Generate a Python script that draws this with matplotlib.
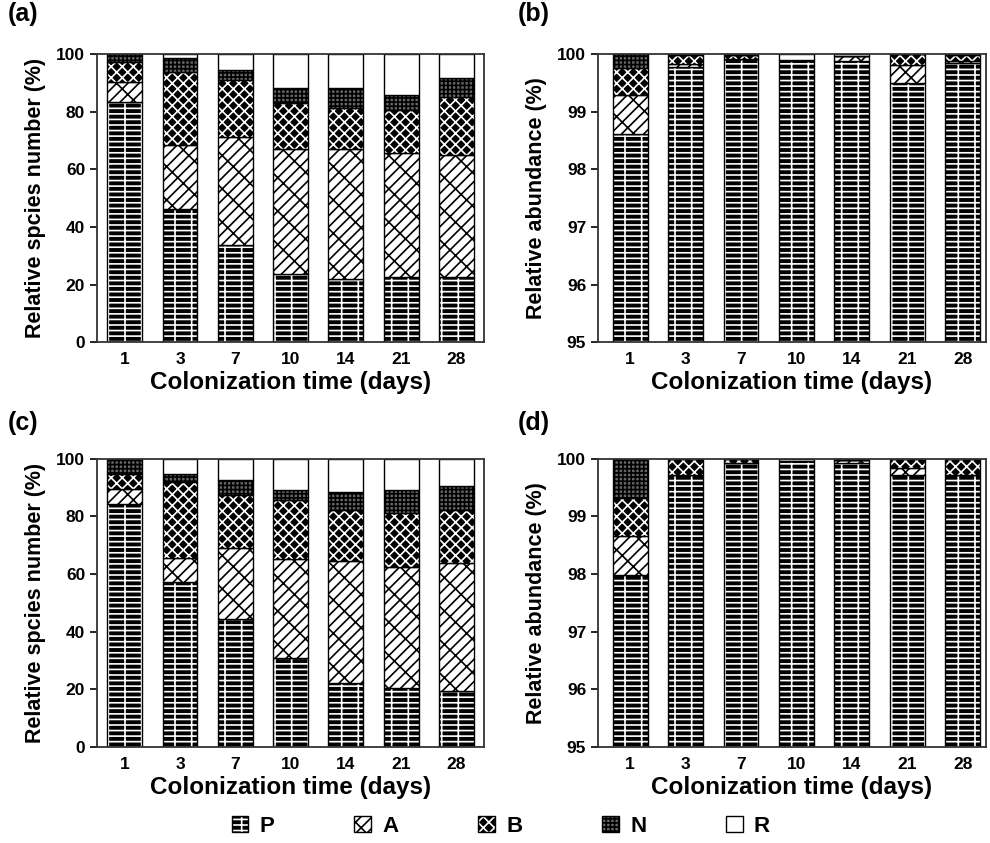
import numpy as np
import matplotlib
matplotlib.use('Agg')
import matplotlib.pyplot as plt
import matplotlib.patches as mpatches
from matplotlib.legend_handler import HandlerTuple

plt.rcParams['font.family'] = ['Liberation Sans', 'DejaVu Sans']
plt.rcParams['font.weight'] = 'bold'
plt.rcParams['hatch.linewidth'] = 1.2

days = ['1', '3', '7', '10', '14', '21', '28']
groups = ['P', 'A', 'B', 'N', 'R']

# (a) relative species number
a_P = [83.4, 46.1, 33.7, 23.8, 21.8, 22.7, 22.5]
a_A = [6.8, 22.3, 37.6, 43.4, 45.4, 43.0, 42.4]
a_B = [7.1, 25.5, 19.7, 15.7, 13.9, 14.9, 20.1]
a_N = [2.7, 4.6, 3.4, 5.2, 7.0, 5.2, 6.5]
a_R = [0.0, 1.5, 5.6, 11.9, 11.9, 14.2, 8.5]

# (b) relative abundance
b_P = [98.62, 99.78, 99.92, 99.88, 99.87, 99.50, 99.85]
b_A = [0.66, 0.04, 0.00, 0.01, 0.10, 0.31, 0.02]
b_B = [0.47, 0.16, 0.06, 0.01, 0.00, 0.19, 0.11]
b_N = [0.25, 0.02, 0.01, 0.00, 0.00, 0.00, 0.02]
b_R = [0.00, 0.00, 0.01, 0.10, 0.03, 0.00, 0.00]

# (c) relative species number
c_P = [84.4, 57.2, 44.3, 30.9, 22.0, 20.3, 19.4]
c_A = [5.2, 8.4, 24.7, 34.3, 42.5, 42.1, 44.4]
c_B = [5.2, 26.3, 18.3, 20.4, 17.6, 18.6, 18.3]
c_N = [5.2, 2.7, 5.4, 3.4, 6.4, 8.0, 8.3]
c_R = [0.0, 5.4, 7.3, 11.0, 11.5, 11.0, 9.6]

# (d) relative abundance
d_P = [97.98, 99.71, 99.92, 99.95, 99.93, 99.71, 99.72]
d_A = [0.67, 0.00, 0.00, 0.00, 0.04, 0.12, 0.00]
d_B = [0.67, 0.29, 0.08, 0.00, 0.00, 0.17, 0.28]
d_N = [0.68, 0.00, 0.00, 0.00, 0.00, 0.00, 0.00]
d_R = [0.00, 0.00, 0.00, 0.05, 0.03, 0.00, 0.00]

# face colour, hatch colour, hatch
styles = {
    'P': ('black', 'white', '---|'),
    'A': ('white', 'black', '///\\'),
    'B': ('black', 'white', 'xxx'),
    'N': ('#666666', 'black', '++++'),
    'R': ('white', 'white', ''),
}

bar_w = 0.63


def draw_panel(ax, parts, ylim, yticks, ylabel, xlim):
    x = np.arange(len(days))
    bottom = np.zeros(len(days))
    for g, vals in zip(groups, parts):
        fc, hc, h = styles[g]
        vals = np.array(vals)
        ax.bar(x, vals, bar_w, bottom=bottom, color=fc, edgecolor=hc, hatch=h, linewidth=0)
        ax.bar(x, vals, bar_w, bottom=bottom, color='none', edgecolor='black', linewidth=1)
        bottom += vals
    ax.set_xlim(*xlim)
    ax.set_ylim(*ylim)
    ax.set_yticks(yticks)
    ax.set_xticks(x)
    ax.set_xticklabels(days)
    ax.tick_params(axis='y', direction='out', length=5, width=1.2, labelsize=12.5)
    ax.tick_params(axis='x', length=0, labelsize=12.5, pad=7)
    for s in ax.spines.values():
        s.set_linewidth(1.3)
        s.set_color('#333333')
    ax.set_ylabel(ylabel, fontsize=15.5, fontweight='bold', labelpad=7)
    ax.set_xlabel('Colonization time (days)', fontsize=17.5, fontweight='bold', labelpad=3)


fig = plt.figure(figsize=(9.9, 8.43), dpi=100)
ax_a = fig.add_axes([0.098, 0.594, 0.391, 0.342])
ax_b = fig.add_axes([0.604, 0.594, 0.392, 0.342])
ax_c = fig.add_axes([0.098, 0.114, 0.391, 0.342])
ax_d = fig.add_axes([0.604, 0.114, 0.392, 0.342])

draw_panel(ax_a, [a_P, a_A, a_B, a_N, a_R], (0, 100), range(0, 101, 20), 'Relative spcies number (%)', (-0.5, 6.5))
draw_panel(ax_b, [b_P, b_A, b_B, b_N, b_R], (95, 100), range(95, 101), 'Relative abundance (%)', (-0.58, 6.42))
draw_panel(ax_c, [c_P, c_A, c_B, c_N, c_R], (0, 100), range(0, 101, 20), 'Relative spcies number (%)', (-0.5, 6.5))
draw_panel(ax_d, [d_P, d_A, d_B, d_N, d_R], (95, 100), range(95, 101), 'Relative abundance (%)', (-0.58, 6.42))

for tag, xx, yy in [('(a)', 0.008, 0.998), ('(b)', 0.523, 0.998), ('(c)', 0.008, 0.513), ('(d)', 0.523, 0.513)]:
    fig.text(xx, yy, tag, fontsize=18, fontweight='bold', va='top', ha='left')

# legend
handles = []
for g in groups:
    fc, hc, h = styles[g]
    fill = mpatches.Patch(facecolor=fc, edgecolor=hc, hatch=h, linewidth=0)
    edge = mpatches.Patch(facecolor='none', edgecolor='black', linewidth=1)
    handles.append((fill, edge))
fig.legend(handles, groups, loc='center', bbox_to_anchor=(0.506, 0.02), ncol=5, frameon=False,
           handler_map={tuple: HandlerTuple(ndivide=1)}, handlelength=0.75, handleheight=0.75,
           columnspacing=3.6, handletextpad=0.5, prop={'size': 16, 'weight': 'bold'})

fig.savefig('out.png', dpi=100)
